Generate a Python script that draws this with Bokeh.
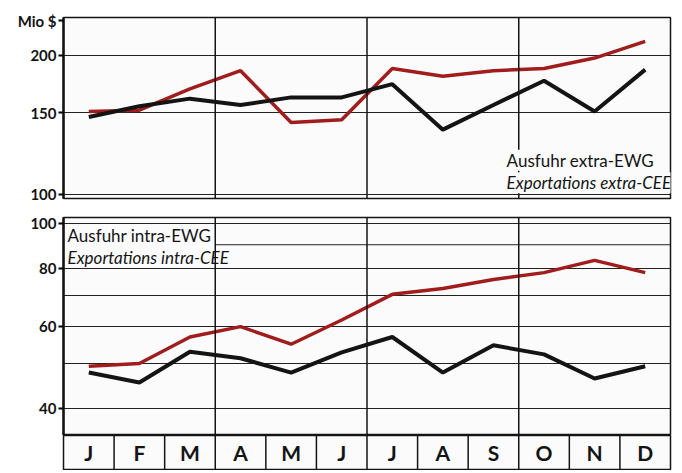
from bokeh.plotting import figure
from bokeh.layouts import column
from bokeh.models import Range1d, FixedTicker, Span, Label, PrintfTickFormatter
from bokeh.embed import file_html
from bokeh.resources import INLINE

months = ["J", "F", "M", "A", "M", "J", "J", "A", "S", "O", "N", "D"]
month_pos = list(range(1, 13))

# Top panel: Ausfuhr extra-EWG (Mio $)
extra_red = [151, 152, 169, 185, 143, 145, 187, 180, 185, 187, 197, 214]
extra_black = [147, 155, 161, 156, 162, 162, 173, 138, 156, 176, 151, 186]
top_ticks = [100, 150, 200]
unit_label = "Mio $"

# Bottom panel: Ausfuhr intra-EWG (Mio $)
intra_red = [49.3, 50.0, 57.0, 60.0, 55.0, 62.0, 70.4, 72.5, 75.8, 78.4, 83.3, 78.4]
intra_black = [47.8, 45.5, 53.0, 51.3, 47.8, 52.8, 57.0, 47.8, 54.7, 52.3, 46.4, 49.3]
bottom_ticks = [40, 60, 80, 100]
bottom_grid = [40, 50, 60, 70, 80, 100]
partial_grid = [90]
quarters = [3.5, 6.5, 9.5]

RED = "#a11d1d"
BLACK = "#141414"
BG = "#fbfbfb"
FONT = "Lato"
W = 675
UNIT_POS = 237  # vertical position of the unit caption on the top axis


def panel(height, yr, ticks, grid, top_border, bottom_border):
    p = figure(width=W, height=height, y_axis_type="log", output_backend="svg",
               toolbar_location=None, x_axis_location=None,
               x_range=Range1d(0.5, 12.5), y_range=Range1d(*yr),
               min_border_left=63, min_border_right=5,
               min_border_top=top_border, min_border_bottom=bottom_border)
    p.background_fill_color = BG
    p.border_fill_color = "white"
    p.outline_line_color = BLACK
    p.outline_line_width = 1.5
    p.xgrid.visible = False
    p.ygrid.ticker = FixedTicker(ticks=grid)
    p.ygrid.grid_line_color = "#222222"
    p.ygrid.grid_line_width = 1
    ax = p.yaxis[0]
    ax.ticker = FixedTicker(ticks=ticks)
    ax.formatter = PrintfTickFormatter(format="%d")
    ax.axis_line_width = 2.5
    ax.axis_line_color = BLACK
    ax.major_tick_out = 5
    ax.major_tick_in = 0
    ax.major_tick_line_width = 2
    ax.minor_tick_line_color = None
    ax.major_label_text_font = FONT
    ax.major_label_text_font_style = "bold"
    ax.major_label_text_font_size = "15px"
    ax.major_label_text_color = BLACK
    ax.major_label_standoff = 2
    for q in quarters:
        p.add_layout(Span(location=q, dimension="height", line_color=BLACK, line_width=1.5))
    return p


# ---- top panel
p1 = panel(205, (98, 241), top_ticks + [UNIT_POS], top_ticks, 17, 7)
p1.yaxis[0].major_label_overrides = {UNIT_POS: unit_label}
p1.line(month_pos, extra_red, line_color=RED, line_width=3.5)
p1.line(month_pos, extra_black, line_color=BLACK, line_width=4)
p1.add_layout(Label(x=9.26, y=118.5, text="Ausfuhr extra-EWG", text_font=FONT,
                    text_font_size="17px", text_align="left", text_baseline="middle",
                    background_fill_color=BG, text_color=BLACK))
p1.add_layout(Label(x=9.26, y=106, text="Exportations extra-CEE", text_font=FONT,
                    text_font_size="17px", text_font_style="italic", text_align="left",
                    text_baseline="middle", background_fill_color=BG, text_color=BLACK))

# ---- bottom panel
p2 = panel(230, (35, 103), bottom_ticks, bottom_grid, 12, 0)
p2.segment(x0=[3.5] * len(partial_grid), x1=[12.5] * len(partial_grid),
           y0=partial_grid, y1=partial_grid, line_color="#222222", line_width=1)
p2.line(month_pos, intra_red, line_color=RED, line_width=3.5)
p2.line(month_pos, intra_black, line_color=BLACK, line_width=4)
p2.add_layout(Label(x=0.58, y=94.2, text="Ausfuhr intra-EWG", text_font=FONT,
                    text_font_size="17px", text_align="left", text_baseline="middle",
                    text_color=BLACK))
p2.add_layout(Label(x=0.58, y=84.5, text="Exportations intra-CEE", text_font=FONT,
                    text_font_size="17px", text_font_style="italic", text_align="left",
                    text_baseline="middle", text_color=BLACK))

# ---- month strip
p3 = figure(width=W, height=35, output_backend="svg", toolbar_location=None,
            x_axis_location=None, y_axis_location=None,
            x_range=Range1d(0.5, 12.5), y_range=Range1d(0, 1),
            min_border_left=63, min_border_right=5, min_border_top=0, min_border_bottom=1)
p3.background_fill_color = BG
p3.border_fill_color = "white"
p3.outline_line_color = BLACK
p3.outline_line_width = 1.5
p3.grid.visible = False
bounds = [m + 0.5 for m in month_pos[:-1]]
p3.segment(x0=bounds, x1=bounds, y0=[0] * len(bounds), y1=[1] * len(bounds),
           line_color=BLACK, line_width=1.5)
p3.text(x=month_pos, y=[0.5] * 12, text=months, text_font={"value": FONT},
        text_font_size={"value": "21px"}, text_font_style="bold",
        text_align="center", text_baseline="middle", text_color=BLACK)

layout = column(p1, p2, p3, spacing=0)
open("out.html", "w").write(file_html(layout, INLINE))
